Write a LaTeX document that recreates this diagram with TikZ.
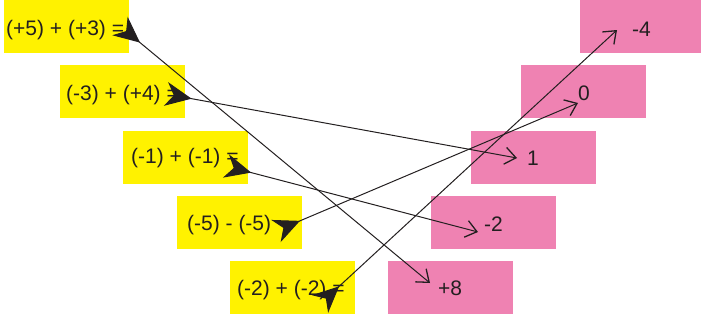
\documentclass[tikz,border=0pt]{standalone}
\usepackage{fontspec}
\setmainfont{Liberation Sans}
\usetikzlibrary{arrows.meta}
\definecolor{ylw}{RGB}{255,242,0}
\definecolor{pnk}{RGB}{239,130,178}
\definecolor{ink}{RGB}{35,31,32}
\begin{document}
\begin{tikzpicture}[x=1pt,y=-1pt,
  ybox/.style={fill=ylw, draw=none, minimum width=125pt, minimum height=53pt, inner sep=0pt, anchor=north west},
  pbox/.style={fill=pnk, draw=none, minimum width=125pt, minimum height=53pt, inner sep=0pt, anchor=north west},
  lbl/.style={font=\fontsize{21}{25}\selectfont, text=ink, inner sep=0pt, anchor=west},
  conn/.style={draw=ink, line width=1pt,
    {Stealth[reversed,length=26pt,width=24pt,inset=8pt]}-{Straight Barb[length=11pt,width=17pt,line width=1.3pt]}}]
\useasboundingbox (0,0) rectangle (701,322);
% yellow boxes
\node[ybox] (y1) at (4,0) {};
\node[ybox] (y2) at (60,65) {};
\node[ybox] (y3) at (123,131) {};
\node[ybox] (y4) at (177,196) {};
\node[ybox] (y5) at (230,261) {};
% pink boxes
\node[pbox, minimum width=121pt] (p1) at (580,0) {};
\node[pbox] (p2) at (521,65) {};
\node[pbox] (p3) at (471,131) {};
\node[pbox] (p4) at (431,196) {};
\node[pbox] (p5) at (388,261) {};
% labels
\node[lbl] (t1) at (6,30) {(+5) + (+3) =};
\node[lbl] (t2) at (66,95) {(-3) + (+4) =};
\node[lbl] (t3) at (131,158) {(-1) + (-1) =};
\node[lbl] (t4) at (187,225) {(-5) - (-5)};
\node[lbl] (t5) at (237,290) {(-2) + (-2) =};
\node[lbl] (r1) at (632,29) {-4};
\node[lbl] (r2) at (578,93) {0};
\node[lbl] (r3) at (527,158) {1};
\node[lbl] (r4) at (484,224) {-2};
\node[lbl] (r5) at (438,288) {+8};
% connector ends
\coordinate (s1) at (120,26);
\coordinate (s2) at (166,94);
\coordinate (s3) at (226,166);
\coordinate (s4) at (276,231);
\coordinate (s5) at (320,304);
\coordinate (e1) at (430,283);
\coordinate (e2) at (517,158);
\coordinate (e3) at (478,232);
\coordinate (e4) at (578,103);
\coordinate (e5) at (617,30);
\draw[conn] (s1) -- (e1);
\draw[conn] (s2) -- (e2);
\draw[conn] (s3) -- (e3);
\draw[conn] (s4) -- (e4);
\draw[conn] (s5) -- (e5);
\end{tikzpicture}
\end{document}
